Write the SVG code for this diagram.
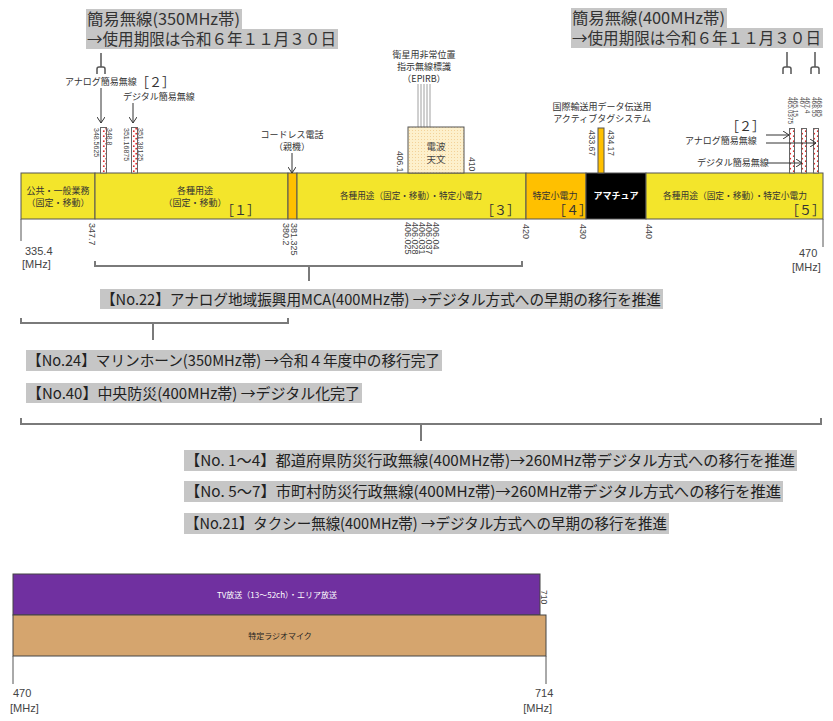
<svg xmlns="http://www.w3.org/2000/svg" width="833" height="721" viewBox="0 0 833 721">
<defs>
<style>
.jp{font-family:"Noto Sans CJK JP","Noto Sans",sans-serif;}
.num{font-family:"Liberation Sans",Arial,sans-serif;fill:#444;}
.s9{font-size:9px;fill:#333;}
.br{font-size:13px;fill:#333;font-family:"Noto Sans CJK JP",sans-serif;}
.title{font-size:16px;fill:#333;}
.lab{font-size:15px;fill:#222;}
.band{stroke:#555;stroke-width:1;}
.bk{fill:none;stroke:#7a7a7a;stroke-width:2;}
.arr{stroke:#333;stroke-width:1;fill:none;}
.gbg{fill:#c6c6c6;}
.strip{fill:url(#dots);stroke:#666;stroke-width:1;}
</style>
<pattern id="dots" width="6" height="5" patternUnits="userSpaceOnUse">
<rect width="6" height="5" fill="#fff"/>
<circle cx="1.8" cy="1.2" r="0.9" fill="#e02828"/>
<circle cx="4.2" cy="3.7" r="0.9" fill="#e02828"/>
</pattern>
<pattern id="peach" width="3" height="3" patternUnits="userSpaceOnUse">
<rect width="3" height="3" fill="#fdf0cc"/>
<circle cx="1.5" cy="1.5" r="0.5" fill="#f0c888"/>
</pattern>
<marker id="ah" markerWidth="8" markerHeight="8" refX="6" refY="4" orient="auto" markerUnits="userSpaceOnUse">
<path d="M0,0 L6,4 L0,8" fill="none" stroke="#333" stroke-width="1"/>
</marker>
</defs>
<rect width="833" height="721" fill="#fff"/>

<!-- Titles -->
<g id="title350">
<rect class="gbg" x="86" y="9" width="156" height="20"/>
<rect class="gbg" x="86" y="29" width="252" height="20"/>
<text class="jp title"><tspan x="87" y="25" textLength="153" lengthAdjust="spacingAndGlyphs">簡易無線(350MHz帯)</tspan><tspan x="87" y="45" textLength="249" lengthAdjust="spacingAndGlyphs">→使用期限は令和６年１１月３０日</tspan></text>
</g>
<g id="title400">
<rect class="gbg" x="571" y="8" width="156" height="20"/>
<rect class="gbg" x="571" y="28" width="252" height="20"/>
<text class="jp title"><tspan x="572" y="24" textLength="153" lengthAdjust="spacingAndGlyphs">簡易無線(400MHz帯)</tspan><tspan x="572" y="44" textLength="249" lengthAdjust="spacingAndGlyphs">→使用期限は令和６年１１月３０日</tspan></text>
</g>

<!-- fork symbols -->
<g id="forks" fill="none" stroke="#555" stroke-width="1.5">
<path d="M101,53 V67 M97,74 V69 Q97,67 99,67 H103 Q105,67 105,69 V74"/>
<path d="M787,52 V67 M783,74 V69 Q783,67 785,67 H789 Q791,67 791,69 V74"/>
<path d="M815,52 V67 M811,74 V69 Q811,67 813,67 H817 Q819,67 819,69 V74"/>
</g>

<!-- Main band -->
<g id="band">
<rect class="band" x="21" y="173" width="74" height="46" fill="#f3e52b"/>
<rect class="band" x="95" y="173" width="193" height="46" fill="#f3e52b"/>
<rect class="band" x="288" y="173" width="9" height="46" fill="#ffc000"/>
<rect class="band" x="297" y="173" width="229" height="46" fill="#f3e52b"/>
<rect class="band" x="526" y="173" width="60" height="46" fill="#ffc000"/>
<rect class="band" x="586" y="173" width="60" height="46" fill="#000"/>
<rect class="band" x="646" y="173" width="177" height="46" fill="#f3e52b"/>
<text class="jp s9" x="58" y="194" text-anchor="middle">公共・一般業務</text>
<text class="jp s9" x="58" y="206" text-anchor="middle">（固定・移動）</text>
<text class="jp s9" x="195" y="194" text-anchor="middle">各種用途</text>
<text class="jp s9" x="195" y="206" text-anchor="middle">（固定・移動）</text>
<text class="br" x="221" y="215">［１］</text>
<text class="jp s9" x="340" y="199" textLength="142" lengthAdjust="spacingAndGlyphs">各種用途（固定・移動）・特定小電力</text>
<text class="br" x="481" y="215">［３］</text>
<text class="jp s9" x="555" y="199" text-anchor="middle">特定小電力</text>
<text class="br" x="553" y="215">［４］</text>
<text class="jp" x="616" y="199" text-anchor="middle" font-size="9" font-weight="bold" fill="#fff">アマチュア</text>
<text class="jp s9" x="663" y="199" textLength="144" lengthAdjust="spacingAndGlyphs">各種用途（固定・移動）・特定小電力</text>
<text class="br" x="786" y="215">［５］</text>
</g>

<!-- axis -->
<g id="axis" stroke="#555" stroke-width="1">
<line x1="21" y1="219" x2="21" y2="241"/>
<line x1="823" y1="219" x2="823" y2="247"/>
</g>
<g id="axis-labels">
<text class="num" x="25" y="255" font-size="11">335.4</text>
<text class="num" x="22" y="268" font-size="11">[MHz]</text>
<text class="num" x="799" y="257" font-size="11">470</text>
<text class="num" x="792" y="271" font-size="11">[MHz]</text>
</g>

<!-- rotated frequency labels -->
<g id="freq" class="num" font-size="9">
<text transform="translate(89,223) rotate(90)">347.7</text>
<text transform="translate(283,223) rotate(90)">380.2</text>
<text transform="translate(291,223) rotate(90)">381.325</text>
<text transform="translate(405,222) rotate(90)">406.025</text>
<text transform="translate(412,222) rotate(90)">406.028</text>
<text transform="translate(419,222) rotate(90)">406.031</text>
<text transform="translate(426,222) rotate(90)">406.037</text>
<text transform="translate(433,222) rotate(90)">406.04</text>
<text transform="translate(523,224) rotate(90)">420</text>
<text transform="translate(580,224) rotate(90)">430</text>
<text transform="translate(646,224) rotate(90)">440</text>
<text transform="translate(397,151) rotate(90)" font-size="8.5">406.1</text>
<text transform="translate(469,157) rotate(90)" font-size="8.5">410</text>
<text transform="translate(589,130) rotate(90)" font-size="8.5">433.67</text>
<text transform="translate(608,130) rotate(90)" font-size="8.5">434.17</text>
</g>

<!-- 350MHz simple radio strips -->
<g id="simple350">
<rect class="strip" x="100.5" y="127.5" width="6" height="45.5"/>
<rect class="strip" x="131.5" y="127.5" width="6" height="45.5"/>
<g class="num" font-size="7">
<text transform="translate(107,128) rotate(90)">348.8</text>
<text transform="translate(94,128) rotate(90)">348.5625</text>
<text transform="translate(138,128) rotate(90)">351.38125</text>
<text transform="translate(124,128) rotate(90)">351.16875</text>
</g>
<text class="jp s9" x="65" y="85">アナログ簡易無線</text>
<text class="br" x="136" y="87" font-size="12">［２］</text>
<text class="jp s9" x="123" y="100">デジタル簡易無線</text>
</g>

<!-- 400MHz simple radio strips -->
<g id="simple400">
<rect class="strip" x="789.5" y="128.5" width="5" height="44.5"/>
<rect class="strip" x="801.5" y="128.5" width="5" height="44.5"/>
<rect class="strip" x="813.5" y="128.5" width="5" height="44.5"/>
<g class="num" font-size="6.5">
<text transform="translate(788,97) rotate(90)">465.0375</text>
<text transform="translate(793,97) rotate(90)">465.15</text>
<text transform="translate(800,97) rotate(90)">467</text>
<text transform="translate(805,97) rotate(90)">467.4</text>
<text transform="translate(812,97) rotate(90)">468.55</text>
<text transform="translate(817,97) rotate(90)">468.85</text>
</g>
<text class="br" x="726" y="131" font-size="12">［２］</text>
<text class="jp s9" x="685" y="144">アナログ簡易無線</text>
<text class="jp s9" x="697" y="166">デジタル簡易無線</text>
</g>

<!-- cordless phone -->
<g id="cordless">
<text class="jp s9" x="292" y="138" text-anchor="middle">コードレス電話</text>
<text class="jp s9" x="292" y="150" text-anchor="middle">（親機）</text>
</g>

<!-- EPIRB -->
<g id="epirb">
<text class="jp s9" x="424" y="58" text-anchor="middle">衛星用非常位置</text>
<text class="jp s9" x="424" y="70" text-anchor="middle">指示無線標識</text>
<text class="jp s9" x="424" y="82" text-anchor="middle">（EPIRB）</text>
<g stroke="#888" stroke-width="0.8">
<line x1="418" y1="84" x2="418" y2="127"/>
<line x1="421" y1="84" x2="421" y2="127"/>
<line x1="424" y1="84" x2="424" y2="127"/>
<line x1="427" y1="84" x2="427" y2="127"/>
<line x1="430" y1="84" x2="430" y2="127"/>
</g>
</g>

<!-- radio astronomy -->
<g id="radioastro">
<rect x="408" y="127" width="56" height="46" fill="url(#peach)" stroke="#555" stroke-width="1"/>
<text class="jp" x="436" y="150" text-anchor="middle" font-size="9.5" fill="#444">電波</text>
<text class="jp" x="436" y="163" text-anchor="middle" font-size="9.5" fill="#444">天文</text>
</g>

<!-- active tag -->
<g id="activetag">
<text class="jp s9" x="602" y="110" text-anchor="middle">国際輸送用データ伝送用</text>
<text class="jp s9" x="602" y="122" text-anchor="middle">アクティブタグシステム</text>
<rect x="598" y="128" width="6" height="45" fill="#ffc000" stroke="#555" stroke-width="1"/>
</g>

<!-- connectors -->
<g id="connectors">
<line class="arr" x1="101" y1="88" x2="101" y2="123" marker-end="url(#ah)"/>
<line class="arr" x1="133" y1="103" x2="133" y2="123" marker-end="url(#ah)"/>
<line class="arr" x1="292" y1="153" x2="292" y2="173" marker-end="url(#ah)"/>
<line class="arr" x1="766" y1="135" x2="789" y2="135" marker-end="url(#ah)"/>
<line class="arr" x1="766" y1="143" x2="816" y2="143" marker-end="url(#ah)"/>
<line class="arr" x1="767" y1="163" x2="802" y2="163" marker-end="url(#ah)"/>
<path class="bk" d="M95,261 V266 H522 V261 M309,266 V281"/>
<path class="bk" d="M21,318 V323 H288 V318 M153,323 V340"/>
<path class="bk" d="M21,418 V424 H821 V418 M421,424 V441"/>
</g>

<!-- labels -->
<g id="no22">
<rect class="gbg" x="100" y="289" width="563" height="20"/>
<text class="jp lab" x="101" y="305" textLength="560" lengthAdjust="spacingAndGlyphs">【No.22】アナログ地域振興用MCA(400MHz帯) →デジタル方式への早期の移行を推進</text>
</g>
<g id="no24">
<rect class="gbg" x="26" y="350" width="416" height="21"/>
<text class="jp lab" x="27" y="366" textLength="413" lengthAdjust="spacingAndGlyphs">【No.24】マリンホーン(350MHz帯) →令和４年度中の移行完了</text>
</g>
<g id="no40">
<rect class="gbg" x="26" y="383" width="336" height="20"/>
<text class="jp lab" x="27" y="399" textLength="333" lengthAdjust="spacingAndGlyphs">【No.40】中央防災(400MHz帯) →デジタル化完了</text>
</g>
<g id="no1-4">
<rect class="gbg" x="184" y="450" width="613" height="21"/>
<text class="jp lab" x="185" y="466" textLength="610" lengthAdjust="spacingAndGlyphs">【No. 1～4】都道府県防災行政無線(400MHz帯)→260MHz帯デジタル方式への移行を推進</text>
</g>
<g id="no5-7">
<rect class="gbg" x="184" y="481" width="599" height="21"/>
<text class="jp lab" x="185" y="497" textLength="596" lengthAdjust="spacingAndGlyphs">【No. 5～7】市町村防災行政無線(400MHz帯)→260MHz帯デジタル方式への移行を推進</text>
</g>
<g id="no21">
<rect class="gbg" x="184" y="513" width="485" height="21"/>
<text class="jp lab" x="185" y="529" textLength="482" lengthAdjust="spacingAndGlyphs">【No.21】タクシー無線(400MHz帯) →デジタル方式への早期の移行を推進</text>
</g>

<!-- bottom band -->
<g id="tvband">
<rect x="13" y="574" width="527" height="41" fill="#7030a0" stroke="#444" stroke-width="1"/>
<text class="jp" x="277" y="598" text-anchor="middle" font-size="8" fill="#fff">TV放送（13～52ch）・エリア放送</text>
<text class="num" transform="translate(541,590) rotate(90)" font-size="8.5">710</text>
</g>
<g id="micband">
<rect x="13" y="615" width="533" height="41" fill="#d5a56e" stroke="#444" stroke-width="1"/>
<text class="jp" x="280" y="639" text-anchor="middle" font-size="8" fill="#222">特定ラジオマイク</text>
</g>
<g id="bottom-axis">
<line x1="13" y1="656" x2="13" y2="684" stroke="#555"/>
<line x1="546" y1="656" x2="546" y2="684" stroke="#555"/>
<text class="num" x="13" y="697" font-size="11">470</text>
<text class="num" x="10" y="712" font-size="11">[MHz]</text>
<text class="num" x="535" y="697" font-size="11">714</text>
<text class="num" x="552" y="712" font-size="11" text-anchor="end">[MHz]</text>
</g>
</svg>
